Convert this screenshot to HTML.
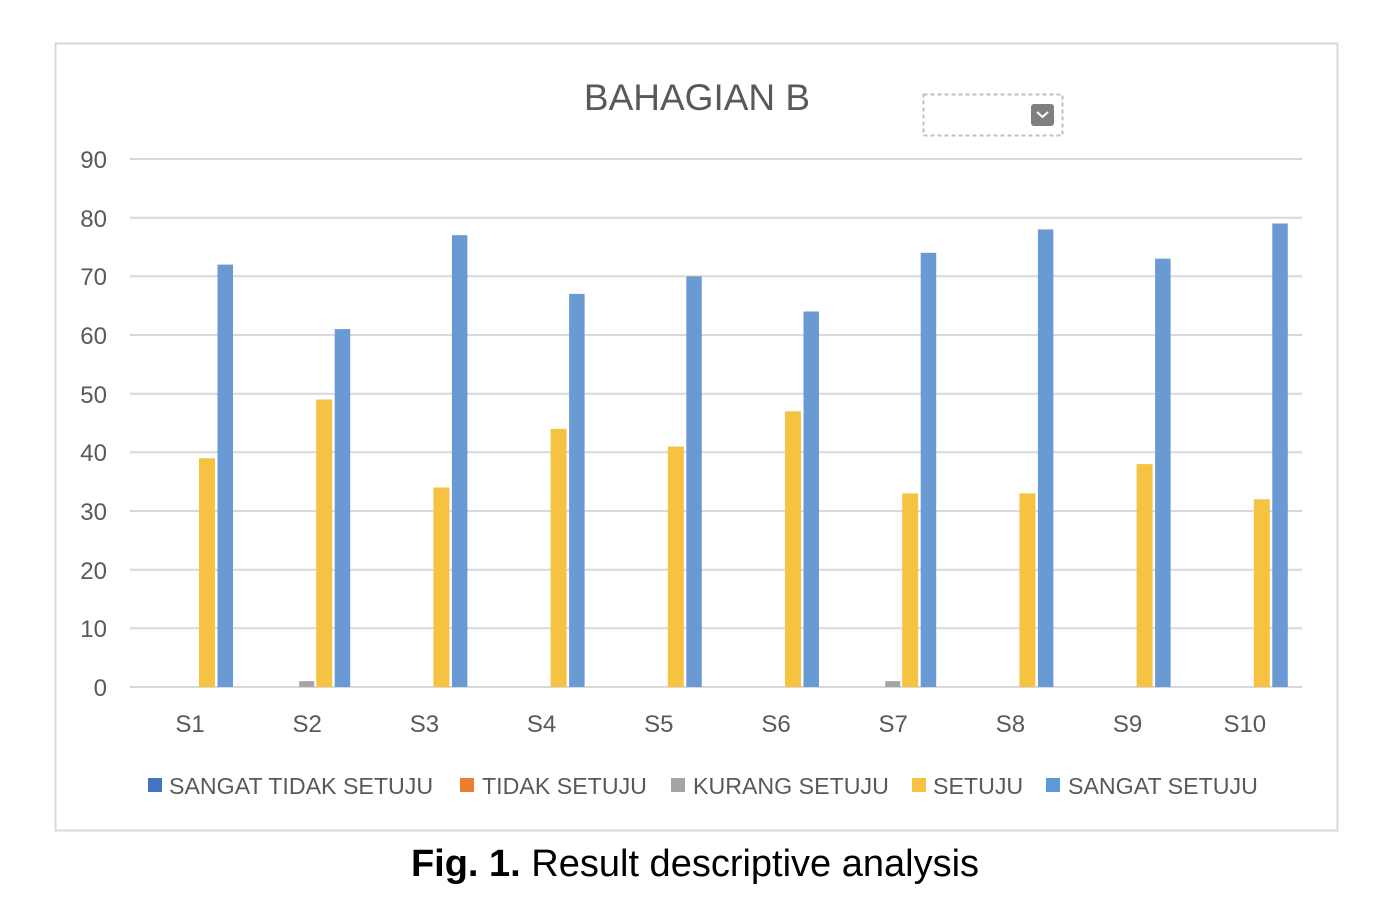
<!DOCTYPE html>
<html><head><style>
body{margin:0;background:#fff;}
svg text{font-family:"Liberation Sans",sans-serif;}
</style></head><body>
<svg width="1398" height="918" xmlns="http://www.w3.org/2000/svg">
<rect x="55.5" y="43.5" width="1282" height="787" fill="#fff" stroke="#d9d9d9" stroke-width="2"/>
<text x="697" y="110" font-size="37" fill="#595959" text-anchor="middle">BAHAGIAN B</text>
<rect x="923.5" y="94.5" width="139" height="41" fill="none" stroke="#bfbfbf" stroke-width="2" stroke-dasharray="4,3"/>
<rect x="1031" y="104" width="23" height="22" rx="3" fill="#7f7f7f"/>
<path d="M1037 112 l5.5 5 l5.5 -5" fill="none" stroke="#fff" stroke-width="2"/>
<g stroke="#d9d9d9" stroke-width="2">
<line x1="130" x2="1302" y1="159" y2="159"/><line x1="130" x2="1302" y1="217.7" y2="217.7"/>
<line x1="130" x2="1302" y1="276.3" y2="276.3"/><line x1="130" x2="1302" y1="335" y2="335"/>
<line x1="130" x2="1302" y1="393.7" y2="393.7"/><line x1="130" x2="1302" y1="452.3" y2="452.3"/>
<line x1="130" x2="1302" y1="511" y2="511"/><line x1="130" x2="1302" y1="569.7" y2="569.7"/>
<line x1="130" x2="1302" y1="628.3" y2="628.3"/><line x1="130" x2="1302" y1="687" y2="687"/>
</g>
<g font-size="24" fill="#595959" text-anchor="end">
<text x="107" y="168">90</text><text x="107" y="227">80</text><text x="107" y="285">70</text>
<text x="107" y="344">60</text><text x="107" y="403">50</text><text x="107" y="461">40</text>
<text x="107" y="520">30</text><text x="107" y="579">20</text><text x="107" y="637">10</text>
<text x="107" y="696">0</text>
</g>
<g fill="#a5a5a5">
<rect x="299.2" y="681.1" width="15" height="5.9"/>
<rect x="885.2" y="681.1" width="15" height="5.9"/>
</g>
<g fill="#f5c242">
<rect x="199" y="458.2" width="16" height="228.8"/>
<rect x="316.2" y="399.5" width="16" height="287.5"/>
<rect x="433.4" y="487.5" width="16" height="199.5"/>
<rect x="550.6" y="428.9" width="16" height="258.1"/>
<rect x="667.8" y="446.5" width="16" height="240.5"/>
<rect x="785" y="411.3" width="16" height="275.7"/>
<rect x="902.2" y="493.4" width="16" height="193.6"/>
<rect x="1019.4" y="493.4" width="16" height="193.6"/>
<rect x="1136.6" y="464.1" width="16" height="222.9"/>
<rect x="1253.8" y="499.3" width="16" height="187.7"/>
</g>
<g fill="#6a9ad3">
<rect x="217.5" y="264.6" width="15.5" height="422.4"/>
<rect x="334.7" y="329.1" width="15.5" height="357.9"/>
<rect x="451.9" y="235.2" width="15.5" height="451.8"/>
<rect x="569.1" y="293.9" width="15.5" height="393.1"/>
<rect x="686.3" y="276.3" width="15.5" height="410.7"/>
<rect x="803.5" y="311.5" width="15.5" height="375.5"/>
<rect x="920.7" y="252.8" width="15.5" height="434.2"/>
<rect x="1037.9" y="229.4" width="15.5" height="457.6"/>
<rect x="1155.1" y="258.7" width="15.5" height="428.3"/>
<rect x="1272.3" y="223.5" width="15.5" height="463.5"/>
</g>
<g font-size="24" fill="#595959" text-anchor="middle">
<text x="190" y="732">S1</text><text x="307.2" y="732">S2</text><text x="424.4" y="732">S3</text>
<text x="541.6" y="732">S4</text><text x="658.8" y="732">S5</text><text x="776" y="732">S6</text>
<text x="893.2" y="732">S7</text><text x="1010.4" y="732">S8</text><text x="1127.6" y="732">S9</text>
<text x="1244.8" y="732">S10</text>
</g>
<g font-size="23.2" fill="#595959">
<rect x="148" y="778" width="14" height="14" fill="#4472c4"/><text x="169" y="794">SANGAT TIDAK SETUJU</text>
<rect x="460" y="778" width="14" height="14" fill="#ed7d31"/><text x="482" y="794">TIDAK SETUJU</text>
<rect x="671" y="778" width="14" height="14" fill="#a5a5a5"/><text x="693" y="794">KURANG SETUJU</text>
<rect x="912" y="778" width="14" height="14" fill="#f5c242"/><text x="933" y="794">SETUJU</text>
<rect x="1046" y="778" width="14" height="14" fill="#5b9bd5"/><text x="1068" y="794">SANGAT SETUJU</text>
</g>
<text x="695" y="876" font-size="38" text-anchor="middle" fill="#000"><tspan font-weight="bold">Fig. 1.</tspan> Result descriptive analysis</text>
</svg>
</body></html>
